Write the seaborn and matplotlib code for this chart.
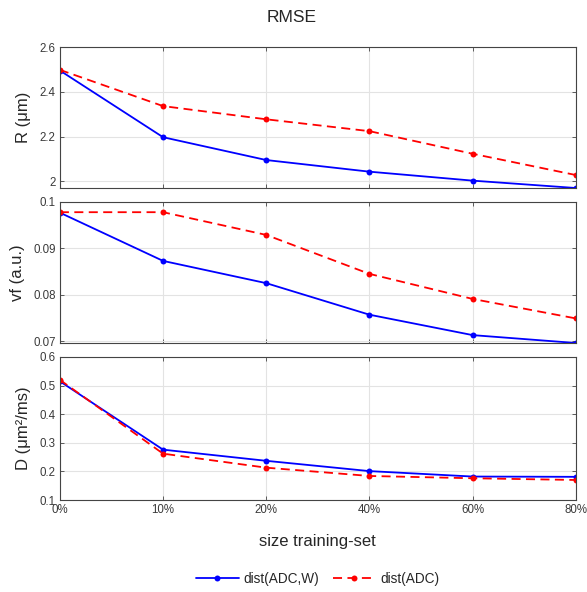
"""
RMSE vs size of training set, three stacked panels.
"""

import pandas as pd
import matplotlib.pyplot as plt
import seaborn as sns

sns.set_theme(style="whitegrid")
plt.rcParams["font.family"] = ["Liberation Sans", "DejaVu Sans"]

# training-set sizes (categorical, evenly spaced)
sizes = ["0%", "10%", "20%", "40%", "60%", "80%"]

# R (um)
r_adc_w = [2.495, 2.197, 2.095, 2.043, 2.003, 1.970]
r_adc = [2.498, 2.336, 2.277, 2.224, 2.123, 2.028]

# vf (a.u.)
vf_adc_w = [0.0977, 0.0873, 0.0825, 0.0757, 0.0713, 0.0696]
vf_adc = [0.0978, 0.0978, 0.0929, 0.0845, 0.0791, 0.0749]

# D (um^2/ms)
d_adc_w = [0.515, 0.276, 0.237, 0.201, 0.182, 0.181]
d_adc = [0.520, 0.262, 0.213, 0.184, 0.176, 0.170]

panels = [
    ("R (\u03bcm)", r_adc_w, r_adc, (1.97, 2.6), [2.0, 2.2, 2.4, 2.6], ["2", "2.2", "2.4", "2.6"]),
    ("vf (a.u.)", vf_adc_w, vf_adc, (0.0696, 0.1), [0.07, 0.08, 0.09, 0.1], ["0.07", "0.08", "0.09", "0.1"]),
    ("D (\u03bcm\u00b2/ms)", d_adc_w, d_adc, (0.1, 0.6), [0.1, 0.2, 0.3, 0.4, 0.5, 0.6],
     ["0.1", "0.2", "0.3", "0.4", "0.5", "0.6"]),
]

fig = plt.figure(figsize=(5.87, 5.92), dpi=100)

bounds = [(0.9206, 0.6824), (0.6588, 0.4206), (0.397, 0.1554)]
left, right = 0.102, 0.981

axes = []
for (top, bottom), (ylabel, y_w, y_a, ylim, yticks, ylabels) in zip(bounds, panels):
    ax = fig.add_axes([left, bottom, right - left, top - bottom])

    df = pd.DataFrame(
        {
            "pos": list(range(len(sizes))) * 2,
            "value": y_w + y_a,
            "method": ["dist(ADC,W)"] * len(sizes) + ["dist(ADC)"] * len(sizes),
        }
    )

    sns.lineplot(
        data=df[df["method"] == "dist(ADC,W)"],
        x="pos", y="value",
        color="#0000ff", marker="o", markersize=4.3, markeredgewidth=0,
        linewidth=1.3, label="dist(ADC,W)", ax=ax, legend=False,
    )
    sns.lineplot(
        data=df[df["method"] == "dist(ADC)"],
        x="pos", y="value",
        color="#ff0000", marker="o", markersize=4.3, markeredgewidth=0,
        linewidth=1.3, linestyle=(0, (5, 3)), label="dist(ADC)", ax=ax, legend=False,
    )

    ax.set_xlim(0, len(sizes) - 1)
    ax.set_ylim(*ylim)
    ax.set_yticks(yticks)
    ax.set_yticklabels(ylabels)
    ax.set_xticks(range(len(sizes)))
    ax.set_xticklabels(sizes)

    ax.set_facecolor("white")
    ax.grid(True, color="#e3e3e3", linewidth=0.8)
    for spine in ax.spines.values():
        spine.set_color("#444444")
        spine.set_linewidth(0.8)
    ax.tick_params(
        direction="in", length=3, width=0.6, color="#444444",
        top=True, right=True, bottom=True, left=True,
        labelsize=8.3, labelcolor="#3a3a3a", pad=3,
    )

    ax.set_ylabel(ylabel, fontsize=12, color="#262626", labelpad=6)
    ax.set_xlabel("")
    axes.append(ax)

for ax in axes[:-1]:
    ax.tick_params(labelbottom=False)

axes[-1].set_xlabel("size training-set", fontsize=12, color="#262626", labelpad=13)
fig.suptitle("RMSE", x=0.497, y=0.983, fontsize=12.5, color="#262626")

handles, labels = axes[-1].get_legend_handles_labels()
fig.legend(
    handles, labels,
    loc="center", bbox_to_anchor=(0.541, 0.022), ncol=2,
    frameon=False, fontsize=9.8, handlelength=3.2, columnspacing=1.0,
    handletextpad=0.3,
)

fig.savefig("out.png", dpi=100)
plt.close(fig)
